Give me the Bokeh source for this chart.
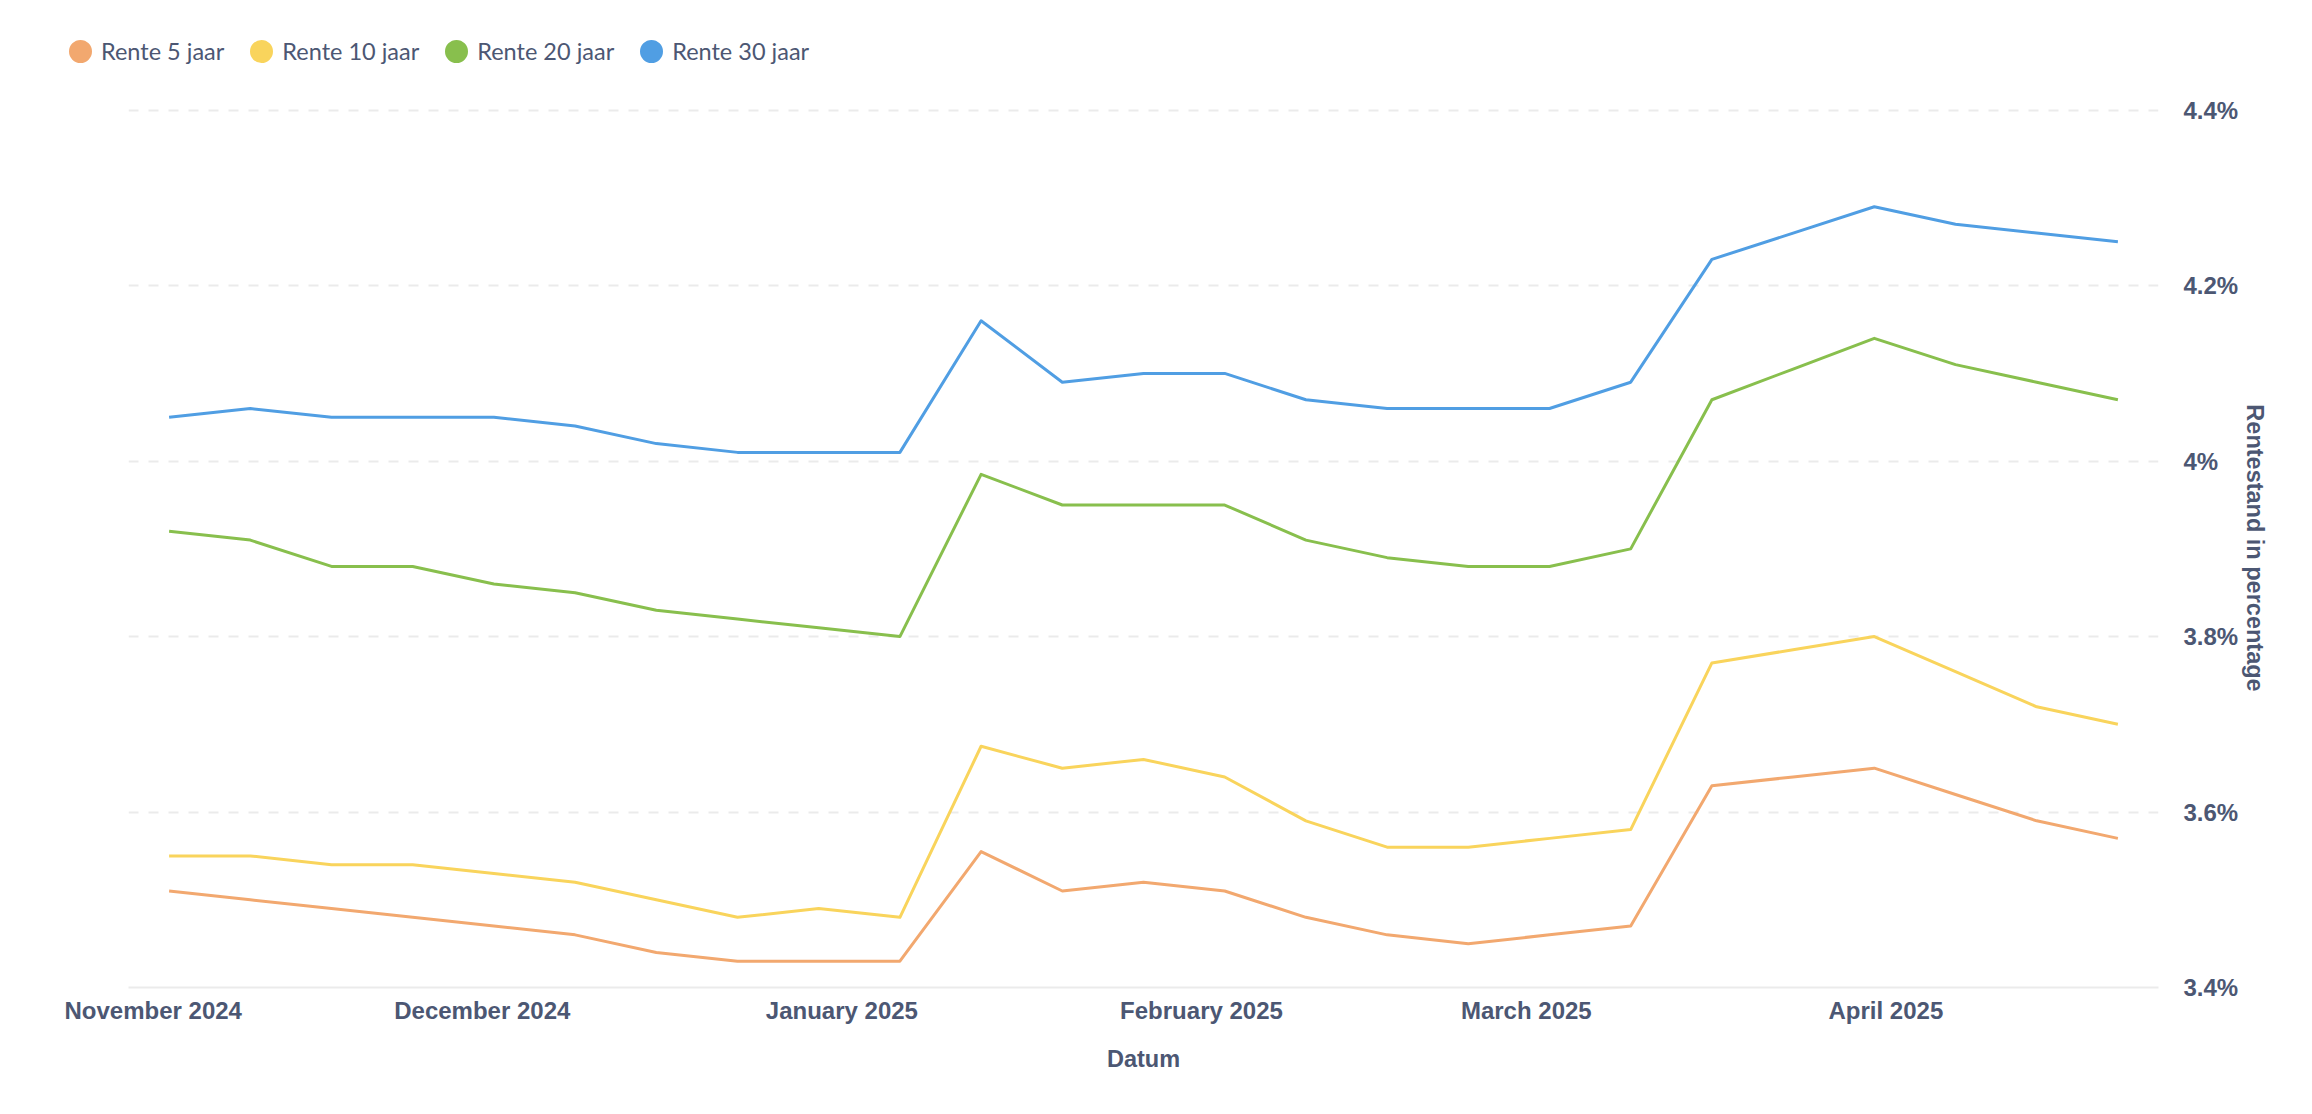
import pandas as pd
from bokeh.plotting import figure
from bokeh.models import (Range1d, FixedTicker, DatetimeTickFormatter, Legend, LegendItem,
                          Spacer, ColumnDataSource)
from bokeh.layouts import row, column
from bokeh.embed import file_html
from bokeh.resources import INLINE

# ---------------- data ----------------
dates = ["2024-11-04", "2024-11-11", "2024-11-18", "2024-11-25", "2024-12-02", "2024-12-09",
         "2024-12-16", "2024-12-23", "2024-12-30", "2025-01-06", "2025-01-13", "2025-01-20",
         "2025-01-27", "2025-02-03", "2025-02-10", "2025-02-17", "2025-02-24", "2025-03-03",
         "2025-03-10", "2025-03-17", "2025-03-24", "2025-03-31", "2025-04-07", "2025-04-14",
         "2025-04-21"]
rente_5 = [3.51, 3.50, 3.49, 3.48, 3.47, 3.46, 3.44, 3.43, 3.43, 3.43, 3.555, 3.51, 3.52,
           3.51, 3.48, 3.46, 3.45, 3.46, 3.47, 3.63, 3.64, 3.65, 3.62, 3.59, 3.57]
rente_10 = [3.55, 3.55, 3.54, 3.54, 3.53, 3.52, 3.50, 3.48, 3.49, 3.48, 3.675, 3.65, 3.66,
            3.64, 3.59, 3.56, 3.56, 3.57, 3.58, 3.77, 3.785, 3.80, 3.76, 3.72, 3.70]
rente_20 = [3.92, 3.91, 3.88, 3.88, 3.86, 3.85, 3.83, 3.82, 3.81, 3.80, 3.985, 3.95, 3.95,
            3.95, 3.91, 3.89, 3.88, 3.88, 3.90, 4.07, 4.105, 4.14, 4.11, 4.09, 4.07]
rente_30 = [4.05, 4.06, 4.05, 4.05, 4.05, 4.04, 4.02, 4.01, 4.01, 4.01, 4.16, 4.09, 4.10,
            4.10, 4.07, 4.06, 4.06, 4.06, 4.09, 4.23, 4.26, 4.29, 4.27, 4.26, 4.25]
series_names = ["Rente 5 jaar", "Rente 10 jaar", "Rente 20 jaar", "Rente 30 jaar"]
series_colors = ["#F2A86F", "#F9D45C", "#88BF4D", "#509EE3"]
month_ticks = ["2024-11-01", "2024-12-01", "2025-01-01", "2025-02-01", "2025-03-01", "2025-04-01"]
y_ticks = [3.4, 3.6, 3.8, 4.0, 4.2, 4.4]
y_tick_labels = ["3.4%", "3.6%", "3.8%", "4%", "4.2%", "4.4%"]
x_title = "Datum"
y_title = "Rentestand in percentage"

TEXT = "#4c5773"
GRID = "#ebebeb"

dts = pd.to_datetime(dates)
src = ColumnDataSource(dict(date=dts, r5=rente_5, r10=rente_10, r20=rente_20, r30=rente_30))

# ---------------- main chart ----------------
half_week = pd.Timedelta(days=3.5)
p = figure(width=2230, height=1030, x_axis_type="datetime", y_axis_location="right",
           x_range=Range1d(dts[0] - half_week, dts[-1] + half_week),
           y_range=Range1d(3.4, 4.402),
           output_backend="svg", toolbar_location=None,
           min_border_left=64, min_border_right=136, min_border_top=28, min_border_bottom=123)
p.outline_line_color = None
p.xgrid.visible = False
p.ygrid.grid_line_color = GRID
p.ygrid.grid_line_dash = "10 10"
p.ygrid.grid_line_width = 2

# y axis (right)
ya = p.yaxis[0]
ya.ticker = FixedTicker(ticks=y_ticks)
ya.major_label_overrides = {t: l for t, l in zip(y_ticks, y_tick_labels)}
ya.axis_line_color = None
ya.major_tick_line_color = None
ya.minor_tick_line_color = None
ya.major_tick_out = 0
ya.major_tick_in = 0
ya.major_label_standoff = 25
ya.major_label_text_font = "Liberation Sans"
ya.major_label_text_font_style = "bold"
ya.major_label_text_font_size = "24px"
ya.major_label_text_color = TEXT
ya.axis_label = y_title
ya.axis_label_text_font = "Liberation Sans"
ya.axis_label_text_font_style = "bold"
ya.axis_label_text_font_size = "23.5px"
ya.axis_label_text_color = TEXT
ya.axis_label_standoff = 1

# x axis (below)
xa = p.xaxis[0]
xa.ticker = FixedTicker(ticks=[pd.Timestamp(m).value / 1e6 for m in month_ticks])
xa.formatter = DatetimeTickFormatter(days="%B %Y", months="%B %Y", years="%B %Y")
xa.axis_line_color = GRID
xa.axis_line_width = 2
xa.major_tick_line_color = None
xa.minor_tick_line_color = None
xa.major_tick_out = 0
xa.major_tick_in = 0
xa.major_label_standoff = 9
xa.major_label_text_font = "Liberation Sans"
xa.major_label_text_font_style = "bold"
xa.major_label_text_font_size = "24px"
xa.major_label_text_color = TEXT
xa.axis_label = x_title
xa.axis_label_text_font = "Liberation Sans"
xa.axis_label_text_font_style = "bold"
xa.axis_label_text_font_size = "23.5px"
xa.axis_label_text_color = TEXT
xa.axis_label_standoff = 19

for col, c in zip(["r5", "r10", "r20", "r30"], series_colors):
    p.line(x="date", y=col, source=src, line_width=3, color=c, line_join="round")

# ---------------- legend strip ----------------
lg = figure(width=2294, height=80, x_range=Range1d(0, 1), y_range=Range1d(0, 1),
            x_axis_location=None, y_axis_location=None, min_border=0,
            output_backend="svg", toolbar_location=None)
lg.outline_line_color = None
lg.grid.visible = False
# legend dots: small circle + thick same-colour outline (data lies off-range)
dummies = [lg.scatter(x=[-10], y=[-10], size=12, marker="circle", color=c, line_width=11)
           for c in series_colors]
legend = Legend(items=[LegendItem(label=n, renderers=[r]) for n, r in zip(series_names, dummies)],
                location=(65, 14), orientation="horizontal", glyph_width=30, glyph_height=30,
                label_standoff=6, spacing=22, padding=0, margin=0, border_line_color=None,
                background_fill_alpha=0, label_text_font="Lato", label_text_font_size="23.5px",
                label_text_color=TEXT, label_height=28)
lg.add_layout(legend)

layout = column(lg, row(Spacer(width=64, height=10), p))
open("out.html", "w").write(file_html(layout, INLINE))
